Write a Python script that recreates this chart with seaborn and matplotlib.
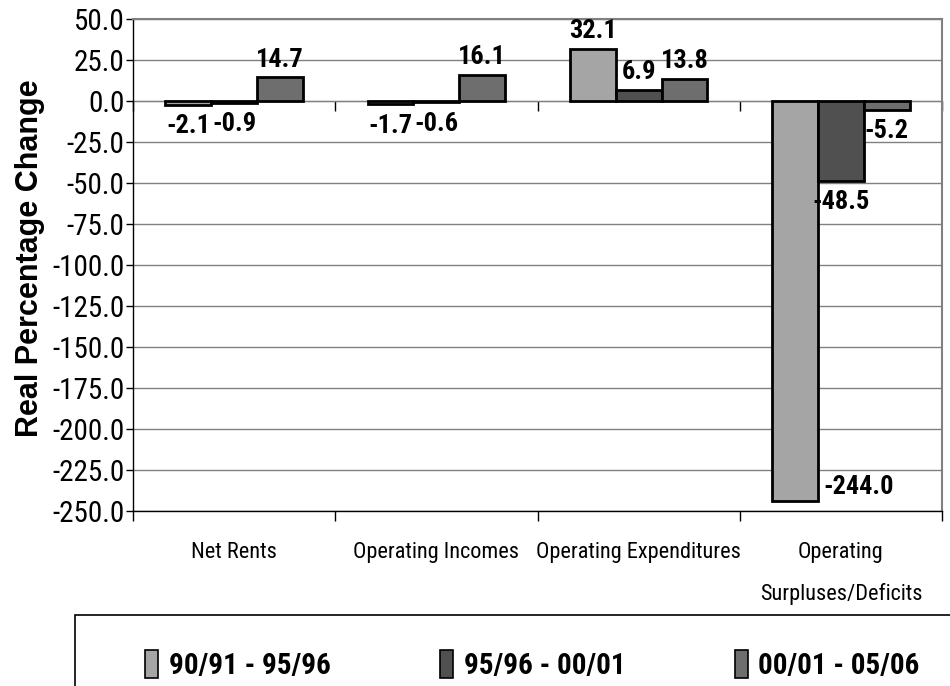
import pandas as pd
import numpy as np
import matplotlib
matplotlib.use("Agg")
import matplotlib.pyplot as plt
from matplotlib.patches import Rectangle
import seaborn as sns

# --- DATA ---
categories = ["Net Rents", "Operating Incomes", "Operating Expenditures",
              "Operating\nSurpluses/Deficits"]
periods = ["90/91 - 95/96", "95/96 - 00/01", "00/01 - 05/06"]
vals_9096 = [-2.1, -1.7, 32.1, -244.0]
vals_9601 = [-0.9, -0.6, 6.9, -48.5]
vals_0106 = [14.7, 16.1, 13.8, -5.2]
y_ticks = list(range(-250, 51, 25))

COLORS = ["#A5A5A5", "#505050", "#6E6E6E"]
NARROW = ["Roboto Condensed", "Barlow Semi Condensed", "Liberation Sans", "DejaVu Sans"]

sns.set_style("white")
plt.rcParams["font.family"] = NARROW
plt.rcParams.update({"text.color": "black", "axes.labelcolor": "black",
                     "xtick.color": "black", "ytick.color": "black"})

df = pd.DataFrame({
    "category": categories * 3,
    "period": [p for p in periods for _ in categories],
    "value": vals_9096 + vals_9601 + vals_0106,
})

fig = plt.figure(figsize=(9.5, 6.86), dpi=100)
ax = fig.add_axes([0.14, 0.255, 0.8516, 0.717])

sns.barplot(data=df, x="category", y="value", hue="period", order=categories,
            hue_order=periods, palette=COLORS, width=0.68, edgecolor="black",
            linewidth=2, saturation=1, ax=ax)

handles, labels = ax.get_legend_handles_labels()
ax.get_legend().remove()

ax.set_ylim(-250, 50)
ax.set_xlim(-0.5, len(categories) - 0.5)
ax.set_yticks(y_ticks)
ax.set_yticklabels([f"{t:.1f}" for t in y_ticks], fontsize=21)
ax.yaxis.grid(True, color="#808080", linewidth=1)
ax.set_axisbelow(True)
ax.tick_params(axis="y", direction="out", length=5, width=1, pad=1, left=True)

# category labels centred, tick marks on group boundaries
ax.set_xticks(range(len(categories)))
ax.set_xticklabels(categories, fontsize=16, linespacing=2.2, va="top")
ax.set_xticks(np.arange(-0.5, len(categories), 1), minor=True)
ax.tick_params(axis="x", which="major", length=0, pad=22)
ax.tick_params(axis="x", which="minor", direction="out", length=7, width=1, bottom=True)
ax.set_xlabel("")
ax.set_ylabel("")

for s in ["left", "bottom"]:
    ax.spines[s].set_color("black")
    ax.spines[s].set_linewidth(1)
for s in ["top", "right"]:
    ax.spines[s].set_color("#808080")
    ax.spines[s].set_linewidth(1.5)

# zero line with its own boundary ticks (pointing down)
zero_pos = (0 - (-250)) / (50 - (-250))
sec = ax.secondary_xaxis(zero_pos)
sec.set_xticks(np.arange(-0.5, len(categories), 1))
sec.set_xticklabels([])
sec.tick_params(direction="in", length=7, width=1, color="black")

# value labels
for cont in ax.containers:
    anns = ax.bar_label(cont, fmt="%.1f", padding=4, fontsize=19, fontweight="bold")
    for bar, ann in zip(cont, anns):
        if bar.get_height() < -200:
            ann.xy = (bar.get_x() + bar.get_width(), bar.get_height())
            ann.set_ha("left")
            ann.set_va("center")
            ann.xyann = (4, 10)
        elif bar.get_height() < 0:
            ann.xyann = (0, -7)

fig.text(0.032, 0.624, "Real Percentage Change", rotation=90, ha="center", va="center",
         fontsize=22, fontweight="bold", family=["Liberation Sans", "DejaVu Sans"])

# legend box at the bottom
fig.add_artist(Rectangle((0.079, -0.1), 1.0, 0.2035, transform=fig.transFigure,
                         fill=False, edgecolor="black", linewidth=1.2, clip_on=False))
leg = fig.legend(handles, labels, loc="center left",
                 bbox_to_anchor=(0.153, 0.031, 0.815, 0.0), mode="expand",
                 borderaxespad=0, borderpad=0,
                 ncol=3, frameon=False, handlelength=0.45, handleheight=1.1,
                 handletextpad=0.35, prop={"size": 21, "weight": "bold", "family": NARROW})
for h in leg.legend_handles:
    h.set_edgecolor("black")
    h.set_linewidth(1.2)

fig.savefig("out.png", dpi=100)
